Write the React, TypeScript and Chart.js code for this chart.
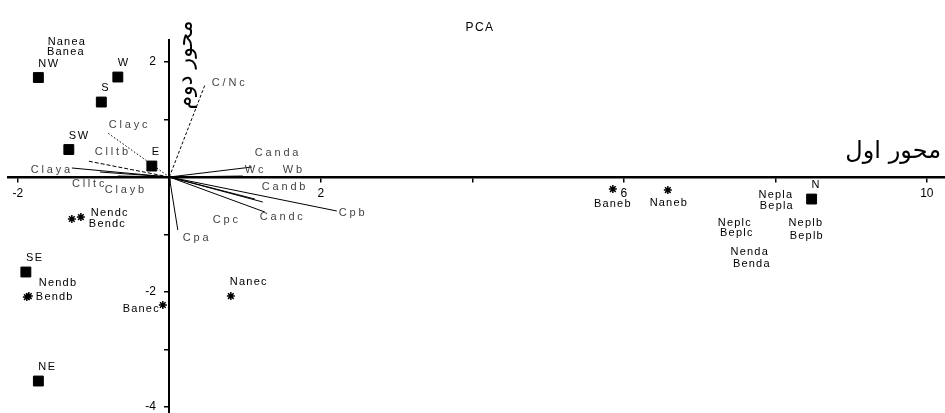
import React, { useEffect, useRef } from 'react';
import { Chart, registerables } from 'chart.js';

Chart.register(...registerables);

// ---- Data ----
const siteNames = ['NW', 'W', 'S', 'SW', 'E', 'SE', 'NE', 'N'];
const siteX = [-1.729, -0.68, -0.898, -1.327, -0.231, -1.894, -1.729, 8.479];
const siteY = [1.73, 1.739, 1.304, 0.478, 0.191, -1.652, -3.548, -0.383];

const sampleNames = ['Nendc', 'Bendc', 'Nendb', 'Bendb', 'Banec', 'Nanec', 'Baneb', 'Naneb'];
const sampleX = [-1.168, -1.287, -1.855, -1.881, -0.086, 0.812, 5.855, 6.581];
const sampleY = [-0.696, -0.73, -2.07, -2.087, -2.226, -2.07, -0.209, -0.226];

const unmarkedNames = ['Nanea', 'Banea', 'Nepla', 'Bepla', 'Neplc', 'Beplc', 'Neplb', 'Beplb', 'Nenda', 'Benda'];
const unmarkedX = [-1.353, -1.366, 8.007, 8.02, 7.465, 7.492, 8.403, 8.416, 7.663, 7.69];
const unmarkedY = [2.348, 2.183, -0.313, -0.504, -0.791, -0.974, -0.791, -1.026, -1.296, -1.504];

const varNames = ['C/Nc', 'Clayc', 'Clltb', 'Claya', 'Clltc', 'Clayb', 'Canda', 'Wc', 'Wb', 'Candb', 'Candc', 'Cpc', 'Cpb', 'Cpa'];
const varX = [0.469, -0.812, -1.076, -1.287, -0.917, -0.68, 1.089, 0.97, 1.485, 1.234, 1.261, 1.129, 2.211, 0.112];
const varY = [1.6, 0.765, 0.278, 0.157, 0.087, 0.017, 0.174, 0.017, 0.0, -0.435, -0.609, -0.383, -0.591, -0.922];

const xTickValues = [-2, 0, 2, 4, 6, 8, 10];
const xTickLabels = ['-2', '', '2', '', '6', '', '10'];
const yTickValues = [2, 1, 0, -1, -2, -3, -4];
const yTickLabels = ['2', '', '', '', '-2', '', '-4'];

const chartTitle = 'PCA';
const xAxisTitle = 'محور اول';
const yAxisTitle = 'محور دوم';

// ---- Styling (label offsets in pixels, dash styles) ----
type Off = [number, number, CanvasTextAlign];
const siteLabelOffsets: Off[] = siteNames.map(() => [0, -14, 'left']);
const sampleLabelOffsets: Off[] = [
  [10, -4, 'left'], [17, 5, 'left'], [10, -13, 'left'], [9, 0, 'left'],
  [-3, 4, 'right'], [-1, -14, 'left'], [0, 15, 'center'], [1, 13, 'center'],
];
const unmarkedLabelOffsets: Off[] = unmarkedNames.map(() => [0, 0, 'center']);
const varLabelOffsets: Off[] = [
  [7, -2, 'left'], [1, -8, 'left'], [7, -9, 'left'], [1, 2, 'right'], [-28, 12, 'left'],
  [-13, 14, 'left'], [3, -14, 'left'], [2, -6, 'left'], [1, -7, 'left'], [-1, -15, 'left'],
  [-5, 5, 'left'], [-42, 21, 'left'], [2, 2, 'left'], [5, 8, 'left'],
];
const varDash: number[][] = [
  [3, 2], [1.5, 2], [4, 2], [], [], [], [], [], [], [], [], [], [], [],
];

const FONT = '"Liberation Sans", Arial, sans-serif';
const Y_LABEL_GAP = '    ';

const labelPlugin = {
  id: 'pcaLabels',
  afterDatasetsDraw(chart: any) {
    const ctx: CanvasRenderingContext2D = chart.ctx;
    ctx.save();
    chart.data.datasets.forEach((ds: any, i: number) => {
      const info = ds.labelInfo;
      if (!info) return;
      const meta = chart.getDatasetMeta(i);
      ctx.font = info.font;
      ctx.fillStyle = info.color;
      (ctx as any).letterSpacing = info.spacing;
      ctx.textBaseline = 'middle';
      info.items.forEach((it: any) => {
        const el = meta.data[it.index];
        if (!el) return;
        ctx.textAlign = it.off[2];
        ctx.fillText(it.text, el.x + it.off[0], el.y + it.off[1]);
      });
    });
    ctx.restore();
  },
};

const titlePlugin = {
  id: 'pcaTitles',
  afterDraw(chart: any) {
    const ctx: CanvasRenderingContext2D = chart.ctx;
    const xs = chart.scales.x;
    const ys = chart.scales.y;
    ctx.save();
    ctx.fillStyle = '#000';
    ctx.textBaseline = 'middle';
    ctx.font = `12px ${FONT}`;
    (ctx as any).letterSpacing = '1.5px';
    ctx.textAlign = 'center';
    ctx.fillText(chartTitle, 480, 28);
    (ctx as any).letterSpacing = '0px';
    ctx.font = '24px "DejaVu Serif", "Liberation Serif", "DejaVu Sans", serif';
    ctx.textAlign = 'right';
    ctx.fillText(xAxisTitle, chart.width - 4, ys.getPixelForValue(0) - 25);
    ctx.font = '22px "DejaVu Serif", "Liberation Serif", "DejaVu Sans", serif';
    ctx.translate(xs.getPixelForValue(0) + 17, 65);
    ctx.rotate(-Math.PI / 2);
    ctx.textAlign = 'center';
    ctx.fillText(yAxisTitle, 0, 0);
    ctx.restore();
  },
};

export default function App() {
  const ref = useRef<HTMLCanvasElement>(null);
  useEffect(() => {
    document.body.style.margin = '0';
    const canvas = ref.current;
    if (!canvas) return;

    const siteData = siteNames.map((_, i) => ({ x: siteX[i], y: siteY[i] }));
    const sampleData = sampleNames.map((_, i) => ({ x: sampleX[i], y: sampleY[i] }));
    const unmarkedData = unmarkedNames.map((_, i) => ({ x: unmarkedX[i], y: unmarkedY[i] }));

    const pointFont = `11px ${FONT}`;
    const datasets: any[] = [
      {
        label: 'sites',
        data: siteData,
        pointStyle: 'rect',
        pointRadius: 7,
        backgroundColor: '#000',
        borderColor: '#000',
        borderWidth: 1,
        showLine: false,
        labelInfo: {
          font: pointFont, color: '#000', spacing: '1.5px',
          items: siteNames.map((t, i) => ({ text: t, index: i, off: siteLabelOffsets[i] })),
        },
      },
      {
        label: 'samples',
        data: sampleData,
        pointStyle: 'star',
        pointRadius: 4,
        backgroundColor: '#000',
        borderColor: '#000',
        borderWidth: 1.5,
        showLine: false,
        labelInfo: {
          font: pointFont, color: '#000', spacing: '1.2px',
          items: sampleNames.map((t, i) => ({ text: t, index: i, off: sampleLabelOffsets[i] })),
        },
      },
      {
        label: 'unmarked',
        data: unmarkedData,
        pointRadius: 0,
        showLine: false,
        labelInfo: {
          font: pointFont, color: '#000', spacing: '1.2px',
          items: unmarkedNames.map((t, i) => ({ text: t, index: i, off: unmarkedLabelOffsets[i] })),
        },
      },
    ];
    varNames.forEach((name, i) => {
      datasets.push({
        label: name,
        data: [{ x: 0, y: 0 }, { x: varX[i], y: varY[i] }],
        showLine: true,
        borderColor: '#000',
        borderWidth: 1,
        borderDash: varDash[i],
        pointRadius: 0,
        fill: false,
        labelInfo: {
          font: `11px ${FONT}`, color: '#444', spacing: '2.8px',
          items: [{ text: name, index: 1, off: varLabelOffsets[i] }],
        },
      });
    });

    const chart = new Chart(canvas, {
      type: 'scatter',
      data: { datasets },
      options: {
        animation: false,
        responsive: false,
        layout: { autoPadding: false, padding: { top: 40, left: 8, right: 0, bottom: 0 } },
        plugins: {
          legend: { display: false },
          tooltip: { enabled: false },
          title: { display: false },
        },
        scales: {
          x: {
            type: 'linear',
            min: -2.13,
            max: 10.24,
            position: { y: 0 } as any,
            afterBuildTicks: (s: any) => { s.ticks = xTickValues.map((v) => ({ value: v })); },
            afterFit: (s: any) => { s.height = 0; s.paddingLeft = 0; s.paddingRight = 0; s.paddingTop = 0; s.paddingBottom = 0; },
            grid: { drawOnChartArea: false, drawTicks: true, tickLength: 4, color: '#000', lineWidth: 1.5 },
            border: { display: true, color: '#000', width: 2.5 },
            ticks: {
              autoSkip: false,
              maxRotation: 0,
              padding: 5,
              color: '#000',
              font: { family: FONT, size: 12 },
              callback: (v: any) => { const k = xTickValues.indexOf(Number(v)); return k >= 0 ? xTickLabels[k] : ''; },
            },
          },
          y: {
            type: 'linear',
            min: -4.104,
            max: 2.383,
            position: { x: 0 } as any,
            afterBuildTicks: (s: any) => { s.ticks = yTickValues.map((v) => ({ value: v })); },
            afterFit: (s: any) => { s.width = 0; s.paddingLeft = 0; s.paddingRight = 0; s.paddingTop = 0; s.paddingBottom = 0; },
            grid: { drawOnChartArea: false, drawTicks: true, tickLength: 4, color: '#000', lineWidth: 1.5 },
            border: { display: true, color: '#000', width: 2 },
            ticks: {
              autoSkip: false,
              padding: 4,
              color: '#000',
              font: { family: FONT, size: 12 },
              callback: (v: any) => {
                const k = yTickValues.indexOf(Number(v));
                const t = k >= 0 ? yTickLabels[k] : '';
                return t ? t + Y_LABEL_GAP : '';
              },
            },
          },
        },
      },
      plugins: [labelPlugin, titlePlugin],
    });
    return () => chart.destroy();
  }, []);

  return (
    <div style={{ width: 945, height: 413 }}>
      <canvas ref={ref} width={945} height={413} style={{ display: 'block' }} />
    </div>
  );
}
